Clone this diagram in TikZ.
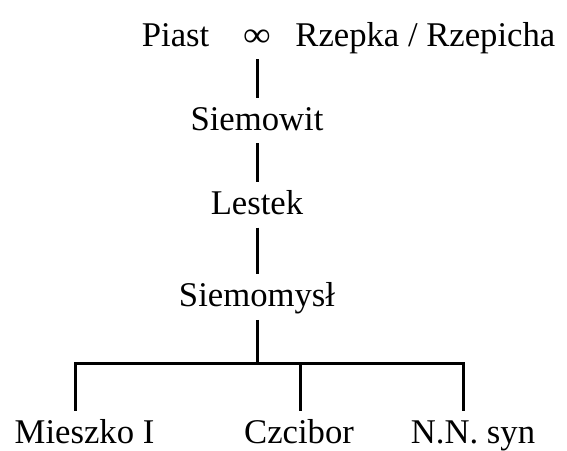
\documentclass[tikz,border=0pt]{standalone}
\usepackage{fontspec}
\setmainfont{Liberation Serif}
\usetikzlibrary{positioning}

\begin{document}
\begin{tikzpicture}[
  x=0.75pt, y=-0.75pt,
  node distance=29pt and 18pt,
  person/.style={inner sep=0pt, font=\fontsize{26}{31}\selectfont, text height=24pt, text depth=9.75pt},
  child/.style={person, text depth=5.25pt},
  line/.style={line width=2.25pt}
]
\useasboundingbox (0,0) rectangle (567,450);
% top couple
\node[person] (marr) at (257,36.5) {\scalebox{1.12}[1]{∞}};
\node[person, left=25pt of marr] (piast) {Piast};
\node[person, right=of marr] (rzepka) {Rzepka / Rzepicha};
% line of descent
\node[person, below=of marr] (siemowit) {Siemowit};
\node[person, below=of siemowit] (lestek) {Lestek};
\node[person, below=35pt of lestek] (siemomysl) {Siemomysł};
% children
\coordinate (fork) at (257,363);
\node[child] (mieszko) at (84.5,430.5) {Mieszko I};
\node[child] (czcibor) at (299,430.5) {Czcibor};
\node[child] (nnsyn) at (473,430.5) {N.N. syn};
\draw[line] (marr) -- (siemowit);
\draw[line] (siemowit) -- (lestek);
\draw[line] (lestek) -- (siemomysl);
\draw[line] (siemomysl) -- (fork);
\draw[line] ([xshift=-6.4pt]mieszko.north) |- (fork) -| ([xshift=-7.5pt]nnsyn.north);
\draw[line] ([xshift=0.75pt]czcibor.north) -- ([xshift=0.75pt]czcibor.north |- fork);
\end{tikzpicture}
\end{document}
